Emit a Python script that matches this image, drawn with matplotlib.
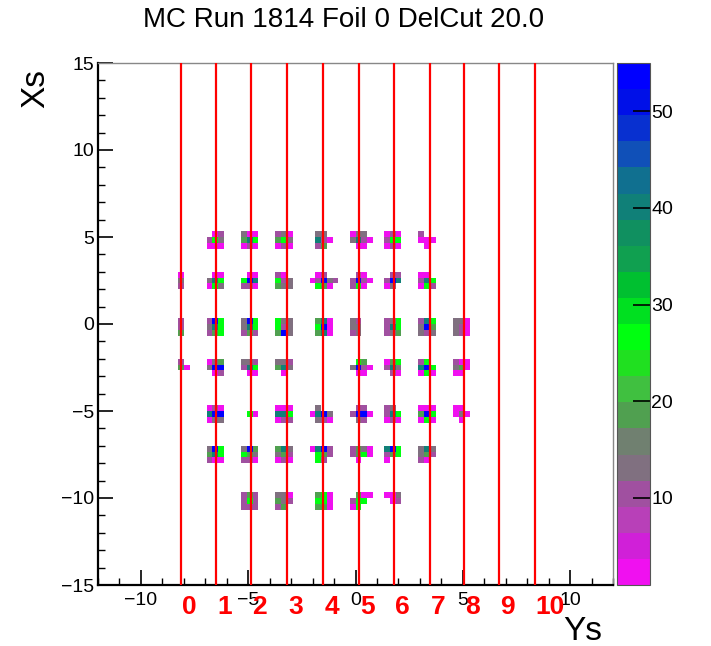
import numpy as np
import matplotlib
matplotlib.use("Agg")
import matplotlib.pyplot as plt
from matplotlib.colors import ListedColormap, BoundaryNorm
from matplotlib.ticker import MultipleLocator

plt.rcParams['font.family'] = ['Liberation Sans', 'DejaVu Sans']

# ---------------- data ----------------
title = "MC Run 1814 Foil 0 DelCut 20.0"
x_label = "Ys"
y_label = "Xs"

# red reference lines (sieve-hole columns) and their labels
line_pos = [-8.15, -6.5, -4.85, -3.2, -1.5, 0.15, 1.8, 3.45, 5.05, 6.7, 8.35]
line_labels = ["0", "1", "2", "3", "4", "5", "6", "7", "8", "9", "10"]

# cluster grid (Ys columns, Xs rows)
col_pos = [-8.1, -6.5, -4.85, -3.2, -1.55, 0.05, 1.7, 3.35, 5.0]
row_pos = [5.0, 2.5, 0.0, -2.5, -5.0, -7.5, -10.0]

# approximate bin contents per colour code
code_values = {'m': 2, 'M': 5, 'p': 10, 'g': 13, 'd': 19, 'G': 27, 't': 40, 'b': 53}

# 3x5 bin patterns around each cluster centre (row index, column index)
clusters = {
    (0, 1): ["..mp.", ".pGg.", ".mmm."],
    (0, 2): [".gmm.", ".dtG.", ".mpm."],
    (0, 3): [".pgm.", ".dGg.", ".mpm."],
    (0, 4): [".gg..", ".tpm.", ".pd.."],
    (0, 5): [".mgg.", ".gtpm", "..mm."],
    (0, 6): [".mpm.", ".pGG.", ".mpm."],
    (0, 7): [".p...", ".mmm.", "..m.."],

    (1, 0): ["..m..", "..g..", "..p.."],
    (1, 1): ["..mm.", ".gtG.", ".mGg."],
    (1, 2): ["..mm.", ".Gbt.", ".ppm."],
    (1, 3): [".pm..", ".Gpg.", ".dgg."],
    (1, 4): [".mp..", "mpbgp", ".Gdm."],
    (1, 5): ["..pm.", ".pbpm", ".pGm."],
    (1, 6): ["..pp.", ".pbt.", ".mg.."],
    (1, 7): [".mm..", ".ptG.", ".mGp."],

    (2, 0): ["..p..", "..p..", "..d.."],
    (2, 1): [".pbG.", ".gtG.", ".pdG."],
    (2, 2): [".gbG.", ".gtG.", ".pdp."],
    (2, 3): [".Ggg.", ".Gpg.", ".dbg."],
    (2, 4): [".dtm.", ".Gbm.", ".dtm."],
    (2, 5): [".gp..", ".gg..", ".pg.."],
    (2, 6): [".pgG.", ".ptG.", ".pgd."],
    (2, 7): [".ptG.", ".gbd.", ".gpg."],
    (2, 8): [".ggm.", ".gpm.", ".gpm."],

    (3, 0): ["..p..", "..dm.", "....."],
    (3, 1): [".mgd.", ".gbb.", "..mp."],
    (3, 2): [".ggp.", ".ptG.", "..mm."],
    (3, 3): [".ggp.", ".dtg.", "..m.."],
    (3, 5): ["..Gd.", ".gbpm", "..mm."],
    (3, 6): [".mdG.", ".ptg.", "..pm."],
    (3, 7): [".pG..", ".tbG.", ".mGm."],
    (3, 8): [".pmm.", ".gdm.", ".mm.."],

    (4, 1): [".mpm.", ".tbb.", ".mgg."],
    (4, 2): [".....", "..Gm.", "....."],
    (4, 3): [".mmm.", ".ttG.", ".mpp."],
    (4, 4): [".g...", "mtbg.", ".gpm."],
    (4, 5): ["..pp.", ".pbbm", "..gp."],
    (4, 6): [".pg..", ".ptG.", ".mpm."],
    (4, 7): [".mmm.", ".dbG.", ".mGm."],
    (4, 8): [".mm..", ".mgm.", "..m.."],

    (5, 1): [".gbG.", ".dtG.", ".pmm."],
    (5, 2): [".gbd.", ".Gdg.", ".ppm."],
    (5, 3): [".dtg.", ".gdp.", ".mpm."],
    (5, 4): ["mtbp.", ".Gdp.", ".Gp.."],
    (5, 5): [".pdgm", ".pdGm", "..m.."],
    (5, 6): [".tbG.", ".pdG.", ".m..."],
    (5, 7): [".gtg.", ".gdp.", ".pm.."],

    (6, 2): [".pdp.", ".pGp.", ".ppp."],
    (6, 3): [".ggm.", ".dgp.", ".pd.."],
    (6, 4): [".dGm.", ".GGm.", ".ddm."],
    (6, 5): ["..dmm", ".pGG.", ".mG.."],
    (6, 6): [".mmg.", "..mp.", "....."],
}

# palette (low -> high), 20 contour levels
palette = ["#f010f0", "#d020d8", "#b840b8", "#a050a0", "#807080",
           "#708070", "#50a050", "#40c040", "#20e020", "#00ff10",
           "#00e020", "#00c030", "#10a050", "#109060", "#108078",
           "#107090", "#1050b8", "#0830d0", "#0010e8", "#0000ff"]
zmin, zmax = 1.0, 55.0

# ---------------- histogram ----------------
nbx, nby = 90, 90
xedges = np.linspace(-12, 12, nbx + 1)
yedges = np.linspace(-15, 15, nby + 1)
H = np.zeros((nby, nbx))
for (ri, ci), pat in clusters.items():
    ix = np.searchsorted(xedges, col_pos[ci]) - 1
    iy = np.searchsorted(yedges, row_pos[ri]) - 1
    for r, rowstr in enumerate(pat):
        for c, ch in enumerate(rowstr):
            if ch in code_values:
                H[iy + 1 - r, ix - 2 + c] = code_values[ch]
Hm = np.ma.masked_where(H <= 0, H)

cmap = ListedColormap(palette)
norm = BoundaryNorm(np.linspace(zmin, zmax, len(palette) + 1), cmap.N)

# ---------------- figure ----------------
W, Hpx = 711, 646
fig = plt.figure(figsize=(W / 100, Hpx / 100), dpi=100)
ax = fig.add_axes([98 / W, 1 - 585 / Hpx, (613 - 98) / W, (585 - 63) / Hpx])
cax = fig.add_axes([617 / W, 1 - 585 / Hpx, (650 - 617) / W, (585 - 63) / Hpx])

ax.pcolormesh(xedges, yedges, Hm, cmap=cmap, norm=norm)
ax.set_xlim(-12, 12)
ax.set_ylim(-15, 15)

for xp, lab in zip(line_pos, line_labels):
    ax.axvline(xp, color='red', lw=1.6, zorder=3)
    ax.text(xp + 0.05, -15.55, lab, color='red',
            fontsize=19, fontweight='bold', ha='left', va='top',
            zorder=5, clip_on=False)

# axes style (ROOT-like)
ax.xaxis.set_major_locator(MultipleLocator(5))
ax.xaxis.set_minor_locator(MultipleLocator(1))
ax.yaxis.set_major_locator(MultipleLocator(5))
ax.yaxis.set_minor_locator(MultipleLocator(1))
ax.tick_params(which='both', direction='in', top=False, right=False,
               labelsize=14, colors='black')
ax.tick_params(which='major', length=11, width=1.2)
ax.tick_params(which='minor', length=5, width=1.0)
ax.tick_params(axis='x', pad=5)
ax.tick_params(axis='y', pad=3)
for s in ['left', 'bottom']:
    ax.spines[s].set_linewidth(1.6)
    ax.spines[s].set_color('black')
for s in ['top', 'right']:
    ax.spines[s].set_linewidth(1.0)
    ax.spines[s].set_color('#888888')

fig.text(583 / W, 1 - 631 / Hpx, x_label, fontsize=24, ha='center', va='center')
fig.text(36 / W, 1 - 88 / Hpx, y_label, fontsize=24, rotation=90,
         ha='center', va='center')
fig.text(344 / W, 1 - 20 / Hpx, title, fontsize=20, ha='center', va='center')

cb = fig.colorbar(plt.cm.ScalarMappable(norm=norm, cmap=cmap), cax=cax,
                  ticks=[10, 20, 30, 40, 50])
cb.outline.set_linewidth(0.8)
cb.outline.set_edgecolor('#555555')
cax.tick_params(direction='in', length=12, width=1.2, labelsize=14, pad=1)
cax.minorticks_off()

fig.savefig("out.png", dpi=100)
